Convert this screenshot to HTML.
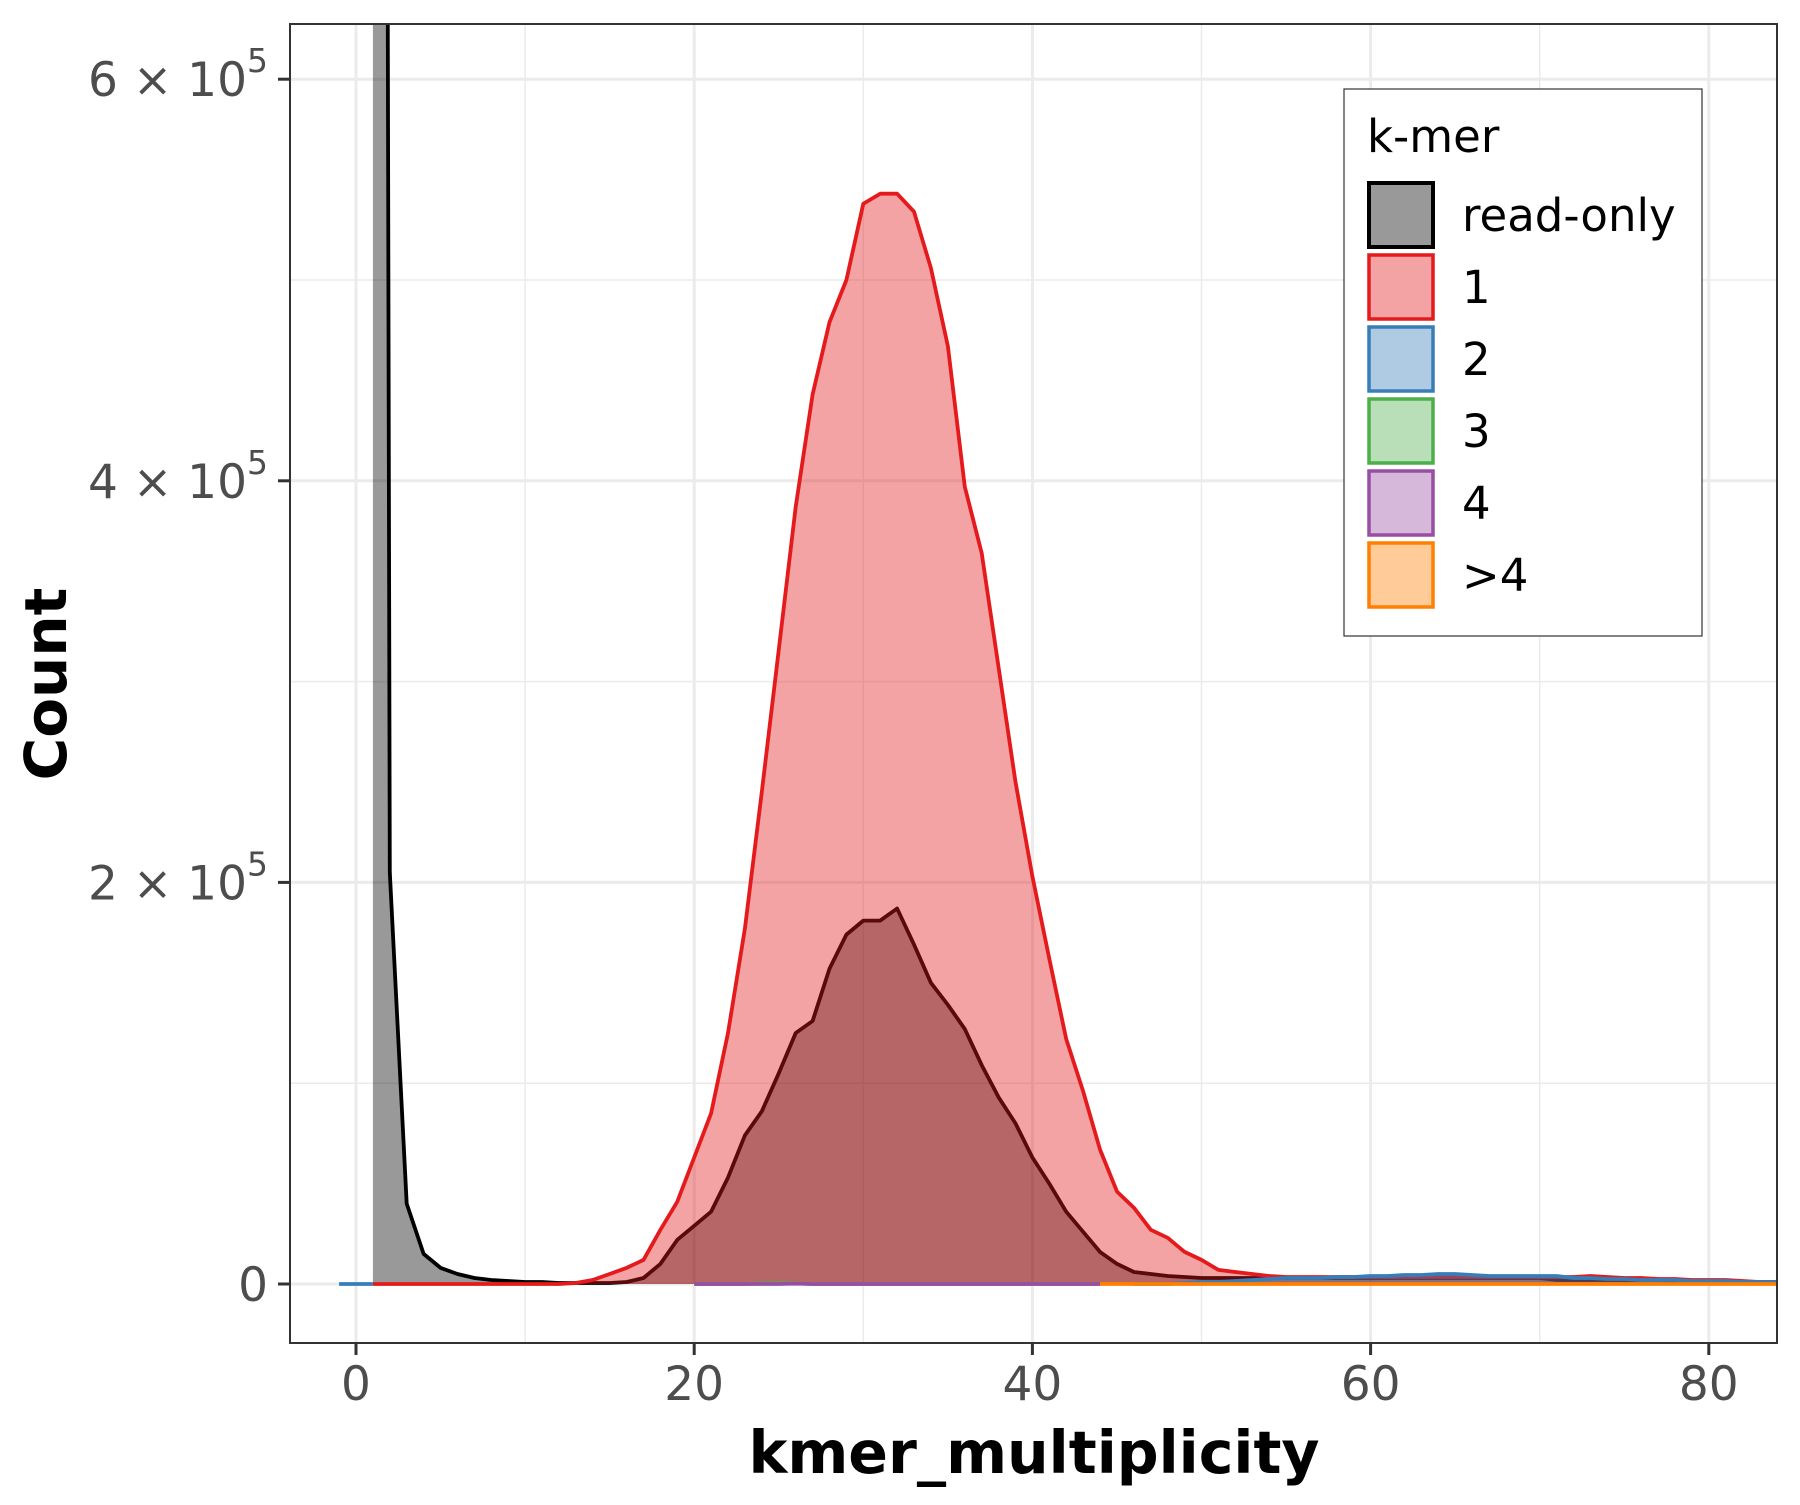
<!DOCTYPE html>
<html><head><meta charset="utf-8"><style>
body{margin:0;background:#fff;}
svg text{font-family:"DejaVu Sans","Liberation Sans",sans-serif;}
</style></head><body>
<svg id="chart" width="1800" height="1500" viewBox="0 0 1800 1500" xmlns="http://www.w3.org/2000/svg">
<defs><clipPath id="clip"><rect x="290" y="24" width="1487" height="1319"/></clipPath></defs>
<rect x="290" y="24" width="1487" height="1319" fill="#fff"/>
<g id="grid"></g>
<g id="series" clip-path="url(#clip)"></g>
<rect x="290" y="24" width="1487" height="1319" fill="none" stroke="#333" stroke-width="2"/>
<g id="axes"></g>
<text x="1034" y="1473" text-anchor="middle" font-size="58.5" font-weight="bold" fill="#000">kmer_multiplicity</text>
<text transform="translate(66,684) rotate(-90)" text-anchor="middle" font-size="58" font-weight="bold" fill="#000">Count</text>
<g>
<rect x="1344" y="89" width="358" height="547" fill="#fff" stroke="#333" stroke-width="1.2"/>
<text x="1376" y="152" font-size="45" fill="#000" transform="translate(-9,0)">k-mer</text>
<g id="legend-items" transform="translate(-9,0)"></g>
</g>
</svg>
<script>
const xTicks=[0,20,40,60,80];
const yTicks=[0,200000,400000,600000];
const yMinor=[100000,300000,500000];
const xMinor=[10,30,50,70];
const roStart=1;
const roVals=[37.5,2.05,0.4,0.15,0.08,0.05,0.03,0.02,0.015,0.01,0.01,0.005,0.005,0.005,0.005,0.01,0.03,0.1,0.22,0.29,0.36,0.53,0.74,0.86,1.05,1.25,1.31,1.57,1.74,1.81,1.81,1.87,1.69,1.5,1.39,1.27,1.09,0.93,0.8,0.63,0.5,0.36,0.26,0.16,0.1,0.06,0.05,0.04,0.035,0.03,0.03,0.03,0.03,0.03,0.03,0.03,0.03,0.03,0.03,0.03,0.03,0.03,0.03,0.03,0.03,0.03,0.03,0.03,0.03,0.03,0.02,0.02,0.02,0.02,0.02,0.02,0.02,0.015,0.015,0.015,0.01,0.01,0.01,0.01];
const oneStart=1;
const oneVals=[0,0,0,0,0,0,0,0,0,0,0,0,0.005,0.02,0.05,0.08,0.12,0.27,0.41,0.63,0.85,1.25,1.77,2.45,3.16,3.87,4.43,4.79,5.0,5.38,5.43,5.43,5.34,5.06,4.67,3.97,3.64,3.07,2.5,2.03,1.62,1.22,0.96,0.67,0.46,0.38,0.27,0.23,0.16,0.12,0.07,0.06,0.05,0.04,0.035,0.035,0.035,0.035,0.035,0.035,0.035,0.035,0.035,0.035,0.035,0.035,0.035,0.035,0.035,0.035,0.035,0.035,0.04,0.035,0.03,0.03,0.025,0.025,0.02,0.02,0.02,0.015,0.01,0.01];
const twoStartA=-1;
const twoValsA=[0,0,0];
const twoStartB=46;
const twoValsB=[0,0,0,0.005,0.01,0.01,0.015,0.02,0.025,0.03,0.03,0.03,0.035,0.035,0.04,0.04,0.045,0.045,0.05,0.05,0.045,0.04,0.04,0.04,0.04,0.04,0.03,0.03,0.025,0.025,0.02,0.02,0.02,0.015,0.015,0.015,0.01,0.01,0.01];
const threeStart=20;
const threeVals=[0,0,0,0,0.003,0.004,0.003,0,0,0,0,0,0,0,0,0,0,0,0,0,0,0,0,0,0];
const fourStart=20;
const fourVals=[0,0,0,0,0,0,0.002,0,0,0,0,0,0,0,0,0,0,0,0,0,0,0,0,0,0];
const gtStart=44;
const gtVals=[0,0,0,0,0,0,0,0,0,0,0,0,0,0,0,0,0,0,0,0,0,0,0,0,0,0,0,0,0,0,0,0,0,0,0,0,0,0,0,0,0];
const legendLabels=["read-only","1","2","3","4",">4"];

const NS="http://www.w3.org/2000/svg";
const X=v=>356+16.91*v;
const Y=v=>1284-200.8*v/100000;
function mk(tag,attrs,parent){const e=document.createElementNS(NS,tag);for(const k in attrs)e.setAttribute(k,attrs[k]);parent.appendChild(e);return e;}
const grid=document.getElementById('grid'),axes=document.getElementById('axes'),ser=document.getElementById('series'),leg=document.getElementById('legend-items');
xMinor.forEach(v=>{const l=mk('line',{x1:X(v),x2:X(v),y1:24,y2:1343,stroke:'#EBEBEB','stroke-width':1.5},grid);});
yMinor.forEach(v=>{const l=mk('line',{x1:290,x2:1777,y1:Y(v),y2:Y(v),stroke:'#EBEBEB','stroke-width':1.5},grid);});
xTicks.forEach(v=>{const l=mk('line',{x1:X(v),x2:X(v),y1:24,y2:1343,stroke:'#EBEBEB','stroke-width':3},grid);
 const t=mk('line',{x1:X(v),x2:X(v),y1:1343,y2:1355,stroke:'#333','stroke-width':3},axes);
 const tx=mk('text',{x:X(v),y:1400,'text-anchor':'middle','font-size':47,fill:'#4D4D4D'},axes);tx.textContent=String(v);});
yTicks.forEach(v=>{const l=mk('line',{x1:290,x2:1777,y1:Y(v),y2:Y(v),stroke:'#EBEBEB','stroke-width':3},grid);
 const t=mk('line',{x1:278,x2:290,y1:Y(v),y2:Y(v),stroke:'#333','stroke-width':3},axes);
 const tx=mk('text',{x:268,y:Y(v)+17,'text-anchor':'end','font-size':47,fill:'#4D4D4D'},axes);
 
 if(v===0){tx.textContent='0';}else{const m=v/100000;const s1=mk('tspan',{},tx);s1.textContent=m+' × 10';const s2=mk('tspan',{dy:-24,'font-size':33},tx);s2.textContent='5';}});
function drawArea(start,vals,fill,stroke,name){
 const pts=vals.map((v,i)=>[X(start+i),Y(v*100000)]);
 const d='M'+X(start)+','+Y(0)+' '+pts.map(p=>'L'+p[0].toFixed(1)+','+p[1].toFixed(1)).join(' ')+' L'+X(start+vals.length-1)+','+Y(0)+'Z';
 const a=mk('path',{d:d,fill:fill,stroke:'none'},ser);
 const l=mk('path',{d:'M'+pts.map(p=>p[0].toFixed(1)+','+p[1].toFixed(1)).join(' L'),fill:'none',stroke:stroke,'stroke-width':3.8,'stroke-linejoin':'round'},ser);}
drawArea(roStart,roVals,'rgba(0,0,0,0.4)','#000','read-only');
drawArea(oneStart,oneVals,'rgba(228,26,28,0.4)','#E41A1C','series-1');
drawArea(twoStartA,twoValsA,'rgba(55,126,184,0.4)','#377EB8','series-2a');
drawArea(twoStartB,twoValsB,'rgba(55,126,184,0.4)','#377EB8','series-2b');
drawArea(threeStart,threeVals,'rgba(77,175,74,0.4)','#4DAF4A','series-3');
drawArea(fourStart,fourVals,'rgba(152,78,163,0.4)','#984EA3','series-4');
drawArea(gtStart,gtVals,'rgba(255,127,0,0.4)','#FF7F00','series-gt4');
const lf=['#999999','#F4A3A4','#AFCBE3','#B8DFB7','#D6B8DA','#FFCC99'];
const ls=['#000','#E41A1C','#377EB8','#4DAF4A','#984EA3','#FF7F00'];
legendLabels.forEach((lab,i)=>{const y0=182+72*i;
 const r=mk('rect',{x:1378,y:y0+1,width:64,height:64,fill:lf[i],stroke:ls[i],'stroke-width':i===0?4:3.5},leg);
 const t=mk('text',{x:1471,y:y0+49,'font-size':45,fill:'#000'},leg);t.textContent=lab;});
</script>
</body></html>
